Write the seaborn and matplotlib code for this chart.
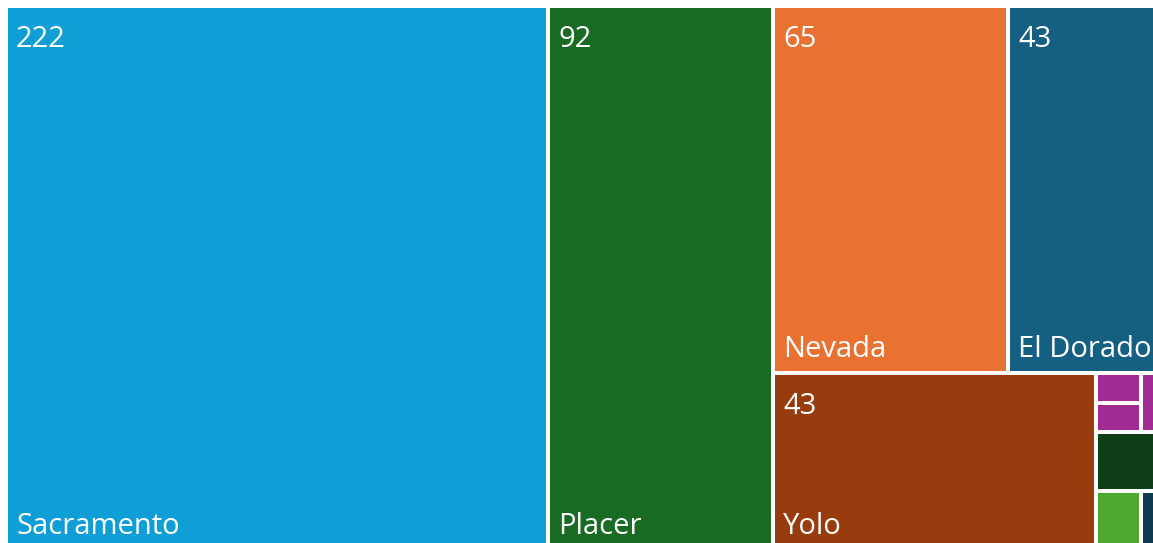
import numpy as np
import matplotlib
matplotlib.use("Agg")
import matplotlib.pyplot as plt
from matplotlib.patches import Rectangle
import seaborn as sns

# ------------------------------------------------------------
# data
# ------------------------------------------------------------
counties = ["Sacramento", "Placer", "Nevada", "El Dorado", "Yolo",
            "Sutter", "Yuba", "Amador", "San Joaquin", "Solano", "Butte"]
counts = [222, 92, 65, 43, 43, 1, 1, 1, 3, 2, 1]
colors = ["#0F9ED5", "#196B24", "#E97132", "#156082", "#983C0E",
          "#A02B93", "#A02B93", "#A02B93", "#0F3F17", "#4EA72E", "#0D3A4F"]

# nesting of the tiles (alternating split direction), built from names
layout = ["Sacramento", "Placer",
          [["Nevada", "El Dorado"],
           ["Yolo",
            [[["Sutter", "Yuba"], "Amador"],
             "San Joaquin",
             ["Solano", "Butte"]]]]]

value = dict(zip(counties, counts))
color = dict(zip(counties, colors))


def total(node):
    if isinstance(node, str):
        return value[node]
    return sum(total(n) for n in node)


def split(node, x, y, w, h, horizontal, out):
    if isinstance(node, str):
        out.append((node, x, y, w, h))
        return
    tot = total(node)
    pos = 0.0
    for child in node:
        frac = total(child) / tot
        if horizontal:
            split(child, x + pos * w, y, w * frac, h, not horizontal, out)
        else:
            split(child, x, y + pos * h, w, h * frac, not horizontal, out)
        pos += frac


W, H = 1153, 543
tiles = []
split(layout, 6, 6, 1158, 544, True, tiles)

sns.set_theme(style="white")
plt.rcParams["font.family"] = ["Open Sans", "DejaVu Sans"]

fig = plt.figure(figsize=(W / 100, H / 100), dpi=100)
ax = fig.add_axes([0, 0, 1, 1])
ax.set_xlim(0, W)
ax.set_ylim(H, 0)
ax.axis("off")

gap = 2.0
for name, x, y, w, h in tiles:
    ax.add_patch(Rectangle((x + gap, y + gap), w - 2 * gap, h - 2 * gap,
                           facecolor=color[name], edgecolor="none"))
    if w > 100 and h > 100:
        ax.text(x + gap + 8, y + gap + 39, str(value[name]), color="white",
                fontsize=21, ha="left", va="baseline")
        ax.text(x + gap + 8, y + h - gap - 14, name, color="white",
                fontsize=21, ha="left", va="baseline")

fig.savefig("out.png", dpi=100, facecolor="white")
